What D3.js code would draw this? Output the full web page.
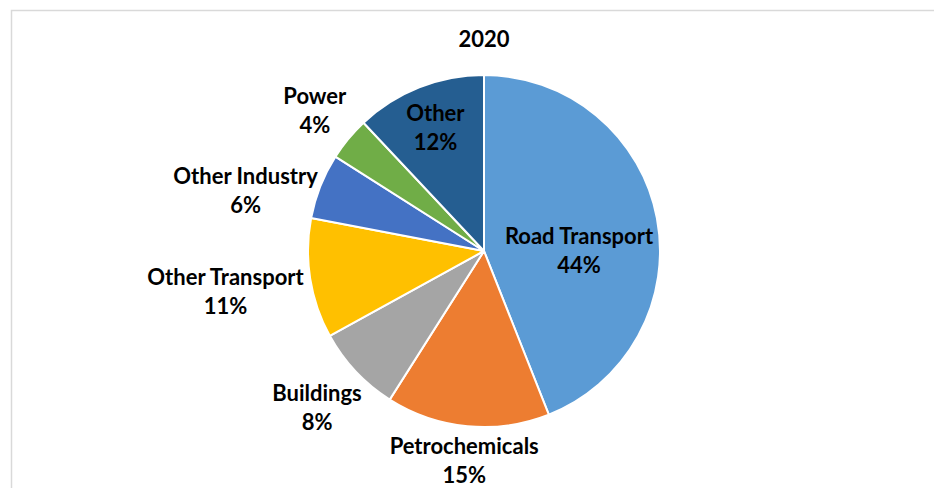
<!DOCTYPE html>
<html>
<head>
<meta charset="utf-8">
<script src="https://cdn.jsdelivr.net/npm/d3@7"></script>
<style>
  html, body { margin: 0; padding: 0; background: #fff; }
  svg { display: block; }
  text { font-family: Lato, "Open Sans", "Noto Sans", sans-serif; font-weight: bold; fill: #000; }
</style>
</head>
<body>
<svg id="chart" width="934" height="488"></svg>
<script>
// Oil demand share by sector, 2020
const title = "2020";
const sectors = ["Road Transport", "Petrochemicals", "Buildings", "Other Transport", "Other Industry", "Power", "Other"];
const shares = [44, 15, 8, 11, 6, 4, 12];
const sectorColors = ["#5B9BD5", "#ED7D31", "#A5A5A5", "#FFC000", "#4472C4", "#70AD47", "#255E91"];
const labelInside = [true, false, false, false, false, false, true];

const W = 934, H = 488;
const cx = 484, cy = 251, R = 176;
const fontSize = 22;
const lineH = 29;

const svg = d3.select("#chart");

// chart area frame
svg.append("rect")
  .attr("x", 11.5).attr("y", 10.5)
  .attr("width", W + 20).attr("height", H + 20)
  .attr("fill", "#fff")
  .attr("stroke", "#d9d9d9").attr("stroke-width", 1.5);

svg.append("text")
  .attr("x", cx).attr("y", 47)
  .attr("text-anchor", "middle")
  .attr("font-size", 22)
  .text(title);

const data = sectors.map((s, i) => ({ name: s, value: shares[i], color: sectorColors[i], inside: labelInside[i] }));

const pie = d3.pie().sort(null).value(d => d.value).startAngle(0).endAngle(2 * Math.PI);
const arcs = pie(data);
const arc = d3.arc().innerRadius(0).outerRadius(R);

const g = svg.append("g").attr("transform", `translate(${cx},${cy})`);

g.selectAll("path.slice")
  .data(arcs)
  .join("path")
  .attr("class", "slice")
  .attr("d", arc)
  .attr("fill", d => d.data.color)
  .attr("stroke", "#fff")
  .attr("stroke-width", 2)
  .attr("stroke-linejoin", "round");

// labels: two lines (name, percent)
const labels = g.selectAll("g.lbl")
  .data(arcs)
  .join("g")
  .attr("class", "lbl");

labels.each(function(d) {
  const el = d3.select(this);
  const t1 = el.append("text").attr("text-anchor", "middle").attr("font-size", fontSize)
    .attr("y", -lineH / 2).attr("dy", "0.35em").text(d.data.name);
  const t2 = el.append("text").attr("text-anchor", "middle").attr("font-size", fontSize)
    .attr("y", lineH / 2).attr("dy", "0.35em").text(d.data.value + "%");
  d.w = Math.max(t1.node().getComputedTextLength(), t2.node().getComputedTextLength());
  d.h = lineH * 2;               // line box height
  const hv = lineH + 16;         // visible ink height
  const mid = (d.startAngle + d.endAngle) / 2;
  if (d.data.inside) {
    const fitsAt = (a, r) => {
      const x = Math.sin(a) * r, y = -Math.cos(a) * r;
      return [[-1, -1], [1, -1], [-1, 1], [1, 1]].every(([kx, ky]) =>
        Math.hypot(x + kx * d.w / 2, y + ky * d.h / 2) <= R - 4);
    };
    let a = mid;
    if (!fitsAt(a, 0.75 * R)) {
      // prefer the most horizontal direction inside the slice for wide text
      const horiz = [Math.PI / 2, 3 * Math.PI / 2].filter(h => h >= d.startAngle && h <= d.endAngle);
      if (horiz.length) a = horiz[0];
    }
    let rho = 0.75 * R;
    while (rho > 0 && !fitsAt(a, rho)) rho -= 1;
    d.lx = Math.sin(a) * rho; d.ly = -Math.cos(a) * rho;
  } else {
    // box's nearest edge sits just outside the rim
    const sx = Math.sin(mid), sy = -Math.cos(mid);
    const support = Math.abs(sx) * d.w / 2 + Math.abs(sy) * hv / 2;
    const rho = R + 5 + support;
    d.lx = sx * rho; d.ly = sy * rho;
  }
});

// push overlapping outside labels apart on each side
const gap = 22;
[-1, 1].forEach(side => {
  const group = arcs.filter(d => !d.data.inside && Math.sign(d.lx) === side)
    .sort((a, b) => a.ly - b.ly);
  for (let i = 1; i < group.length; i++) {
    const prev = group[i - 1], cur = group[i];
    const overlapX = Math.abs(prev.lx - cur.lx) < (prev.w + cur.w) / 2;
    const minY = prev.ly + prev.h / 2 + gap + cur.h / 2;
    if (overlapX && cur.ly < minY) cur.ly = minY;
  }
});

labels.attr("transform", d => `translate(${d.lx},${d.ly})`);
</script>
</body>
</html>
